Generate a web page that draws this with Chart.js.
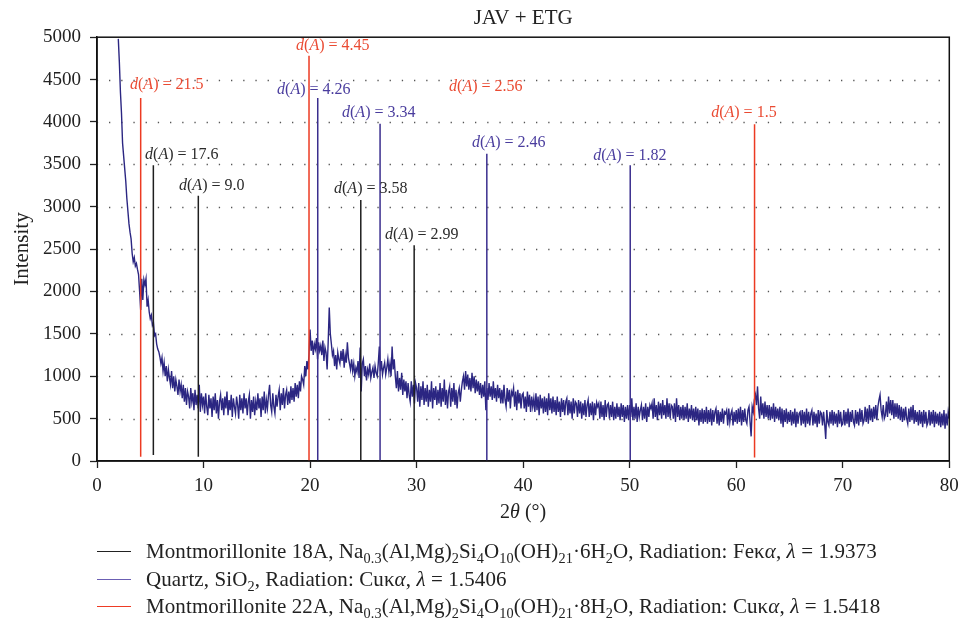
<!DOCTYPE html>
<html><head><meta charset="utf-8">
<script src="https://cdn.jsdelivr.net/npm/chart.js@4"></script>
<style>
html,body{margin:0;padding:0;background:#fff;}
#wrap{position:relative;width:960px;height:618px;overflow:hidden;}
canvas{position:absolute;left:0;top:0;}
#legend{position:absolute;left:97px;top:537.5px;font-family:"Liberation Serif","DejaVu Serif",serif;font-size:21px;color:#222;letter-spacing:0.1px;}
.row{height:27.8px;white-space:nowrap;display:flex;align-items:center;}
.sw{display:inline-block;width:34px;height:0;border-top:1.6px solid;margin-right:15px;}
sub{font-size:0.68em;vertical-align:-0.35em;line-height:0;}
</style></head>
<body>
<div id="wrap">
<canvas id="c" width="960" height="618"></canvas>
<div id="legend">
 <div class="row"><span class="sw" style="border-color:#222"></span><span>Montmorillonite 18A, Na<sub>0.3</sub>(Al,Mg)<sub>2</sub>Si<sub>4</sub>O<sub>10</sub>(OH)<sub>21</sub>·6H<sub>2</sub>O, Radiation: Feκ<i>α</i>, <i>λ</i> = 1.9373</span></div>
 <div class="row"><span class="sw" style="border-color:#6b5fb3"></span><span>Quartz, SiO<sub>2</sub>, Radiation: Cuκ<i>α</i>, <i>λ</i> = 1.5406</span></div>
 <div class="row"><span class="sw" style="border-color:#ee3b24"></span><span>Montmorillonite 22A, Na<sub>0.3</sub>(Al,Mg)<sub>2</sub>Si<sub>4</sub>O<sub>10</sub>(OH)<sub>21</sub>·8H<sub>2</sub>O, Radiation: Cuκ<i>α</i>, <i>λ</i> = 1.5418</span></div>
</div>
</div>
<script>
// ---- data ----
const scanStart = 2.0;   // 2θ of first scan point
const scanStep = 0.1;    // scan step in degrees
const intensity = [
 4980,4700,4350,4100,3750,3600,3450,3300,3100,2950,
 2800,2700,2620,2450,2350,2400,2300,2330,2260,2200,
 2000,1780,2150,1900,2140,2080,2150,1820,1900,1760,
 1680,1720,1600,1630,1480,1500,1380,1320,1290,1230,
 1150,1220,1060,1160,1000,1120,940,1080,980,900,
 1060,860,1000,820,960,880,780,960,820,900,
 740,900,700,860,660,820,760,620,860,700,
 800,600,840,660,780,620,900,580,800,660,
 760,560,800,640,540,780,620,740,520,760,
 600,800,560,720,500,700,780,600,740,540,
 760,620,820,540,720,600,780,520,740,640,
 560,760,660,500,780,600,740,560,800,620,
 740,540,700,780,500,720,580,760,540,700,
 600,800,620,740,520,760,600,820,560,720,
 620,780,900,660,580,800,640,560,780,640,
 760,840,600,800,660,860,620,780,840,660,
 820,680,880,720,860,700,920,760,900,740,
 940,820,1000,960,900,1120,1000,1180,1080,1260,
 1550,1300,1420,1250,1380,1320,1450,1200,1400,1300,
 1360,1250,1420,1180,1340,1280,1080,1400,1810,1500,
 1380,1250,1300,1120,1250,1080,1280,1200,1150,1300,
 1180,1320,1100,1250,1160,1400,1220,1150,1080,1200,
 1060,1150,1000,1100,1050,1180,980,1340,820,1150,
 1200,1000,1120,950,1080,1020,1150,980,1050,1100,
 980,1120,1040,1000,1150,1350,1060,1180,1020,1100,
 1160,1020,1100,1200,1050,1150,1000,1350,1080,1200,
 1000,860,1060,820,980,840,1040,780,960,820,
 940,740,920,780,700,940,760,900,680,920,
 860,700,920,640,880,720,940,660,860,700,
 900,640,840,700,940,620,860,720,880,660,
 840,680,920,640,860,700,960,660,840,620,
 820,880,640,860,700,920,660,840,620,800,
 860,700,840,940,1000,840,1060,880,1020,840,
 980,820,1040,860,1000,800,960,820,940,780,
 920,740,900,760,940,600,860,720,920,760,
 880,720,940,740,860,700,900,740,860,680,
 840,680,900,720,640,860,700,840,620,820,
 780,860,640,820,600,840,680,800,620,780,
 800,620,760,580,820,640,780,580,760,640,
 740,580,800,600,760,540,780,620,740,560,
 760,580,740,540,800,600,740,560,760,580,
 720,540,760,580,700,520,740,580,720,540,
 700,740,540,720,560,700,500,740,560,700,
 680,520,720,560,700,500,680,540,720,520,
 660,720,520,680,540,700,480,680,540,690,
 640,680,500,700,520,660,480,720,520,660,
 680,500,660,520,700,480,640,500,680,520,
 640,480,680,520,660,460,640,500,660,480,
 660,520,740,480,640,500,680,460,640,520,
 600,660,480,640,500,680,460,640,520,660,
 620,680,500,740,520,660,480,700,540,680,
 500,720,540,660,500,740,520,680,500,660,
 640,500,680,460,740,520,660,480,640,500,
 660,480,640,500,680,460,620,500,660,480,
 620,460,640,480,620,420,600,460,620,440,
 600,460,640,440,600,460,620,420,600,460,
 580,620,440,600,420,580,460,620,440,580,
 560,600,420,620,460,560,600,420,580,460,
 600,440,620,460,640,420,600,460,620,480,
 440,600,640,460,290,640,580,720,780,660,
 880,620,500,760,540,680,500,700,520,660,
 500,660,480,640,500,680,460,640,500,620,
 480,640,440,620,400,600,460,620,440,580,
 460,600,420,580,440,620,400,580,440,560,
 580,420,600,440,580,400,620,440,580,420,
 560,600,420,580,440,560,400,600,440,580,
 560,420,580,440,260,600,460,420,580,440,
 600,420,580,440,560,400,600,440,580,420,
 440,600,420,580,440,620,400,580,460,600,
 460,420,600,440,580,420,620,460,600,440,
 480,640,460,620,440,660,480,620,460,640,
 500,660,480,640,720,780,600,520,660,500,
 540,700,520,760,560,720,540,720,500,680,
 520,680,500,660,480,640,460,620,480,640,
 500,440,620,460,640,480,660,440,600,460,
 580,420,600,440,580,400,600,440,580,420,
 460,600,420,580,440,600,400,580,440,560,
 420,580,400,560,420,600,380,560,420,580,
 500
];

// Reference stick patterns (2θ position, top intensity, bottom intensity, d-spacing label)
const mont18Pos    = [5.29, 9.51, 24.76, 29.77];
const mont18Top    = [3490, 3130, 3080, 2545];
const mont18Base   = [70, 50, 0, 0];
const mont18D      = ["17.6", "9.0", "3.58", "2.99"];

const quartzPos    = [20.72, 26.57, 36.59, 50.05];
const quartzTop    = [4283, 3980, 3626, 3490];
const quartzBase   = [0, 0, 0, 0];
const quartzD      = ["4.26", "3.34", "2.46", "1.82"];

const mont22Pos    = [4.10, 19.90, 61.72];
const mont22Top    = [4283, 4780, 3972];
const mont22Base   = [50, 0, 40];
const mont22D      = ["21.5", "4.45", "2.56", "1.5"];

// label anchor points (2θ of text start, intensity of text middle)
const mont18LabelX = [4.51, 7.70, 22.25, 27.04];
const mont18LabelY = [3609, 3242, 3215, 2671];
const quartzLabelX = [16.90, 23.00, 35.21, 46.57];
const quartzLabelY = [4377, 4113, 3759, 3605];
const mont22LabelX = [3.10, 18.69, 33.05, 57.65];
const mont22LabelY = [4444, 4894, 4409, 4113];

const xTicks = [0, 80, 10];      // min, max, step
const yTicks = [0, 5000, 500];

// ---- styles ----
const SERIF = '"Liberation Serif","DejaVu Serif",serif';
const C_BLACK = '#1e1e1e', C_BLUE = '#3a2e8e', C_RED = '#ec3a22', C_SPEC = '#2b2682';
const T_BLACK = '#2a2a2a', T_BLUE = '#4a3d9e', T_RED = '#ea4a32';

const specData = intensity.map((v, i) => ({x: +(scanStart + i * scanStep).toFixed(2), y: v}));

const datasets = [];
function addSticks(pos, top, base, color) {
  pos.forEach((p, i) => {
    datasets.push({data: [{x: p, y: base[i]}, {x: p, y: top[i]}], borderColor: color,
      borderWidth: 1.5, pointRadius: 0, showLine: true, order: 0});
  });
}
addSticks(mont18Pos, mont18Top, mont18Base, C_BLACK);
addSticks(quartzPos, quartzTop, quartzBase, C_BLUE);
addSticks(mont22Pos, mont22Top, mont22Base, C_RED);
datasets.push({data: specData, borderColor: C_SPEC, borderWidth: 1.4, pointRadius: 0,
  showLine: true, order: 10, tension: 0});

const labels = [];
function addLabels(xs, ys, ds, color) { xs.forEach((x, i) => labels.push({x, y: ys[i], d: ds[i], color})); }
addLabels(mont18LabelX, mont18LabelY, mont18D, T_BLACK);
addLabels(quartzLabelX, quartzLabelY, quartzD, T_BLUE);
addLabels(mont22LabelX, mont22LabelY, mont22D, T_RED);

function drawParts(ctx, parts, x, y, size, align) {
  let total = 0;
  parts.forEach(p => { ctx.font = (p[1] ? 'italic ' : '') + size + 'px ' + SERIF; p.w = ctx.measureText(p[0]).width; total += p.w; });
  let cx = align === 'center' ? x - total / 2 : x;
  parts.forEach(p => { ctx.font = (p[1] ? 'italic ' : '') + size + 'px ' + SERIF; ctx.fillText(p[0], cx, y); cx += p.w; });
}

const decor = {
  id: 'decor',
  beforeDatasetsDraw(chart) {
    const {ctx, chartArea: a, scales: {y}} = chart;
    ctx.save();
    ctx.strokeStyle = '#555';
    ctx.lineWidth = 1.3;
    ctx.setLineDash([1.3, 10.9]);
    ctx.lineDashOffset = -12;
    y.ticks.forEach(t => {
      if (t.value <= yTicks[0] || t.value >= yTicks[1]) return;
      const py = Math.round(y.getPixelForValue(t.value)) + 0.5;
      ctx.beginPath(); ctx.moveTo(a.left, py); ctx.lineTo(a.right, py); ctx.stroke();
    });
    ctx.restore();
  },
  afterDatasetsDraw(chart) {
    const {ctx, chartArea: a, scales: {x, y}} = chart;
    ctx.save();
    ctx.textBaseline = 'middle';
    labels.forEach(l => {
      ctx.fillStyle = l.color;
      drawParts(ctx, [['d', 1], ['(', 0], ['A', 1], [')', 0], [' = ' + l.d, 0]],
        x.getPixelForValue(l.x), y.getPixelForValue(l.y), 16, 'left');
    });
    // frame
    ctx.strokeStyle = '#111';
    ctx.lineWidth = 1.5;
    ctx.strokeRect(a.left, a.top, a.right - a.left, a.bottom - a.top);
    // x axis title
    ctx.fillStyle = '#222';
    drawParts(ctx, [['2', 0], ['θ', 1], [' (°)', 0]], (a.left + a.right) / 2, 513, 20, 'center');
    ctx.restore();
  }
};

new Chart(document.getElementById('c'), {
  type: 'scatter',
  data: {datasets},
  options: {
    responsive: false,
    animation: false,
    layout: {padding: {left: 0, right: 10.7, top: 0, bottom: 94}},
    plugins: {
      legend: {display: false},
      tooltip: {enabled: false},
      title: {display: true, text: 'JAV + ETG', fullSize: false, color: '#222',
        font: {family: SERIF, size: 21, weight: 'normal'}, padding: {top: 6, bottom: 6}}
    },
    scales: {
      x: {
        type: 'linear', min: xTicks[0], max: xTicks[1],
        ticks: {stepSize: xTicks[2], color: '#222', padding: 6.5, font: {family: SERIF, size: 19}, maxRotation: 0},
        grid: {drawOnChartArea: false, drawTicks: true, tickLength: 7, color: '#222', tickWidth: 1.3},
        border: {display: true, color: '#111', width: 1.5},
        afterFit: s => { s.height = 63; s.paddingLeft = 0; s.paddingRight = 0; }
      },
      y: {
        type: 'linear', min: yTicks[0], max: yTicks[1],
        ticks: {stepSize: yTicks[2], color: '#222', padding: 9, font: {family: SERIF, size: 19},
          callback: v => String(v)},
        grid: {drawOnChartArea: false, drawTicks: true, tickLength: 7, color: '#222', tickWidth: 1.3},
        border: {display: true, color: '#111', width: 1.5},
        title: {display: true, text: 'Intensity', color: '#222', font: {family: SERIF, size: 21},
          padding: {top: 9.4, bottom: 0}},
        afterFit: s => { s.width = 97; s.paddingTop = 0; s.paddingBottom = 0; }
      }
    }
  },
  plugins: [decor]
});
</script>
</body></html>
